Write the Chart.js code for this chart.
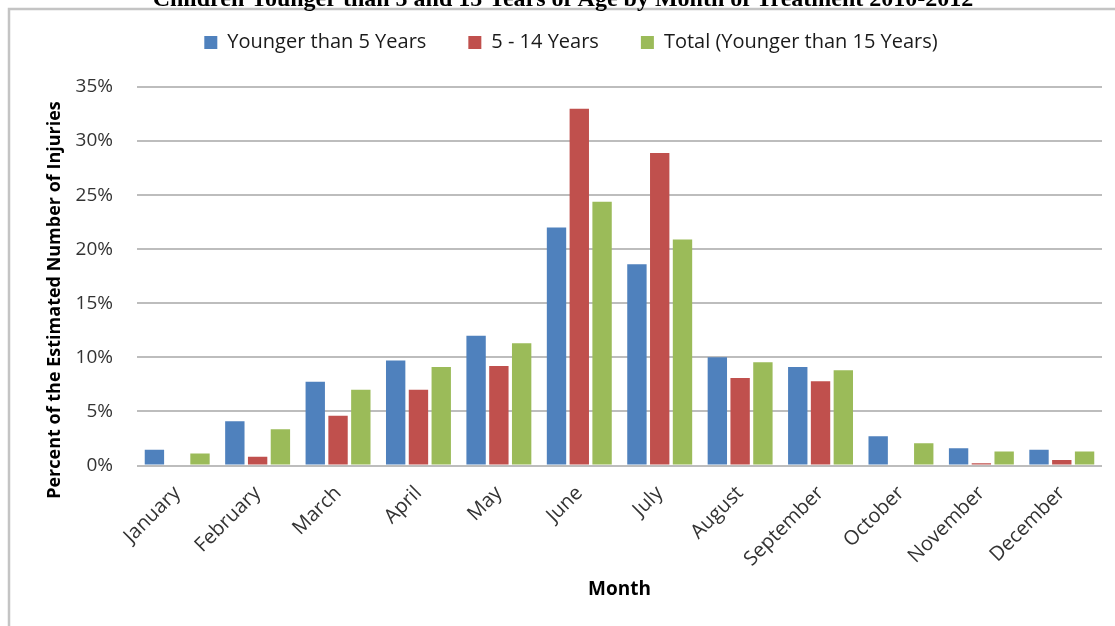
<!DOCTYPE html>
<html>
<head>
<meta charset="utf-8">
<script src="https://cdn.jsdelivr.net/npm/chart.js@4"></script>
<style>
  html, body { margin: 0; padding: 0; background: #fff; }
  canvas { display: block; }
</style>
</head>
<body>
<canvas id="grafica" width="1115" height="626"></canvas>
<script>
// Datos (porcentaje del número estimado de lesiones)
const meses = ['January', 'February', 'March', 'April', 'May', 'June',
    'July', 'August', 'September', 'October', 'November', 'December'];
const menores5 = [1.45, 4.1, 7.75, 9.7, 12.0, 22.0, 18.6, 10.0, 9.1, 2.7, 1.6, 1.45];
const de5a14 = [0, 0.8, 4.6, 7.0, 9.2, 33.0, 28.9, 8.1, 7.8, 0, 0.2, 0.5];
const total = [1.1, 3.35, 7.0, 9.1, 11.3, 24.4, 20.9, 9.55, 8.8, 2.05, 1.3, 1.3];
const ticksY = [0, 5, 10, 15, 20, 25, 30, 35];

const titulo = 'Children Younger than 5 and 15 Years of Age by Month of Treatment 2010-2012';
const tituloY = 'Percent of the Estimated Number of Injuries';
const fuente = "'Open Sans', 'DejaVu Sans', sans-serif";

// Marco gris, título recortado arriba y título del eje Y
const marco = {
    id: 'marco',
    beforeDraw(chart) {
        const c = chart.ctx;
        c.save();
        c.strokeStyle = '#C4C4C4';
        c.lineWidth = 2.5;
        c.strokeRect(9, 9, chart.width + 20, chart.height + 20);
        c.fillStyle = '#000';
        c.font = "bold 24px 'Liberation Serif', serif";
        c.textAlign = 'center';
        c.textBaseline = 'alphabetic';
        c.fillText(titulo, 563, 6);
        c.restore();
    },
    afterDraw(chart) {
        const c = chart.ctx;
        c.save();
        c.translate(55, 300);
        c.rotate(-Math.PI / 2);
        c.fillStyle = '#000';
        c.font = 'bold 18px ' + fuente;
        c.textAlign = 'center';
        c.textBaseline = 'middle';
        c.fillText(tituloY, 0, 0);
        c.restore();
    }
};

const ctx = document.getElementById('grafica');
new Chart(ctx, {
    type: 'bar',
    data: {
        labels: meses,
        datasets: [
            { label: 'Younger than 5 Years', data: menores5, backgroundColor: '#4F81BD' },
            { label: '5 - 14 Years', data: de5a14, backgroundColor: '#C0504D' },
            { label: 'Total (Younger than 15 Years)', data: total, backgroundColor: '#9BBB59' }
        ]
    },
    options: {
        responsive: false,
        animation: false,
        devicePixelRatio: 1,
        layout: { padding: { top: -9.5, left: 40, right: 13, bottom: 0 } },
        datasets: {
            bar: { categoryPercentage: 0.85, barPercentage: 0.85, borderWidth: 0 }
        },
        plugins: {
            // espacio vacío entre la leyenda y el área del gráfico
            title: {
                display: true,
                text: '',
                weight: 500,
                font: { size: 10, lineHeight: 1.0 },
                padding: { top: 0, bottom: 14.5 }
            },
            legend: {
                display: true,
                position: 'top',
                labels: {
                    boxWidth: 13,
                    boxHeight: 13,
                    padding: 42,
                    color: '#1A1A1A',
                    font: { family: fuente, size: 20 }
                }
            },
            tooltip: { enabled: false }
        },
        scales: {
            x: {
                grid: { display: false },
                border: { display: false },
                ticks: {
                    maxRotation: 45,
                    minRotation: 45,
                    padding: 8,
                    color: '#333',
                    font: { family: fuente, size: 20 }
                },
                title: {
                    display: true,
                    text: 'Month',
                    color: '#000',
                    font: { family: fuente, size: 19, weight: 'bold' },
                    padding: { top: 0, bottom: 25 }
                },
                afterFit(scale) { scale.height = 160.5; }
            },
            y: {
                min: 0,
                max: 35,
                afterBuildTicks(scale) { scale.ticks = ticksY.map(v => ({ value: v })); },
                grid: { color: '#BDBDBD', lineWidth: 2, drawTicks: false },
                border: { display: false },
                ticks: {
                    padding: 24,
                    color: '#333',
                    font: { family: fuente, size: 19 },
                    callback: v => v + '%'
                },
                afterFit(scale) { scale.width = 97; }
            }
        }
    },
    plugins: [marco]
});
</script>
</body>
</html>
